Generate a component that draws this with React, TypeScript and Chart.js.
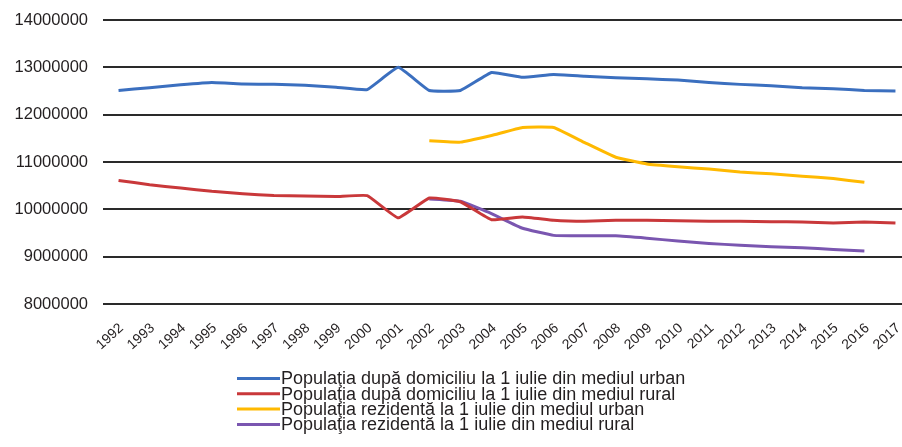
import React, { useEffect, useRef } from "react";
import { Chart, registerables } from "chart.js";

Chart.register(...registerables);

const years = [
  "1992", "1993", "1994", "1995", "1996", "1997", "1998", "1999", "2000", "2001", "2002", "2003", "2004",
  "2005", "2006", "2007", "2008", "2009", "2010", "2011", "2012", "2013", "2014", "2015", "2016", "2017",
];

const domiciliuUrban = [
  12510000, 12570000, 12630000, 12680000, 12650000, 12640000, 12620000, 12580000, 12530000, 13000000,
  12510000, 12510000, 12890000, 12790000, 12850000, 12810000, 12780000, 12760000, 12730000, 12680000,
  12640000, 12610000, 12570000, 12550000, 12510000, 12500000,
];

const domiciliuRural = [
  10610000, 10520000, 10450000, 10380000, 10330000, 10290000, 10280000, 10270000, 10290000, 9820000,
  10240000, 10160000, 9780000, 9840000, 9770000, 9750000, 9770000, 9770000, 9760000, 9750000,
  9750000, 9740000, 9730000, 9710000, 9730000, 9710000,
];

const rezidentaUrban = [
  null, null, null, null, null, null, null, null, null, null,
  11450000, 11420000, 11560000, 11730000, 11730000, 11410000, 11100000, 10960000, 10900000, 10850000,
  10790000, 10750000, 10700000, 10650000, 10570000, null,
];

const rezidentaRural = [
  null, null, null, null, null, null, null, null, null, null,
  10220000, 10170000, 9910000, 9600000, 9450000, 9440000, 9440000, 9390000, 9330000, 9280000,
  9240000, 9210000, 9190000, 9150000, 9120000, null,
];

const seriesLabels = [
  "Populaţia după domiciliu la 1 iulie din mediul urban",
  "Populaţia după domiciliu la 1 iulie din mediul rural",
  "Populaţia rezidentă la 1 iulie din mediul urban",
  "Populaţia rezidentă la 1 iulie din mediul rural",
];

const seriesColors = ["#3b6fbf", "#c9383a", "#ffb901", "#7a56b0"];

const yMin = 8000000;
const yMax = 14000000;
const yStep = 1000000;

const TEXT = "#231f20";
const FONT = "'Liberation Sans', Arial, sans-serif";

const legendPlugin = {
  id: "verticalLegend",
  afterDraw(chart: any) {
    const ctx = chart.ctx as CanvasRenderingContext2D;
    ctx.save();
    chart.data.datasets.forEach((ds: any, i: number) => {
      const y = 378.5 + i * 15.3;
      ctx.strokeStyle = ds.borderColor;
      ctx.lineWidth = 3;
      ctx.beginPath();
      ctx.moveTo(237, y);
      ctx.lineTo(280, y);
      ctx.stroke();
      ctx.fillStyle = TEXT;
      ctx.font = `18px ${FONT}`;
      ctx.textBaseline = "middle";
      ctx.textAlign = "left";
      ctx.fillText(ds.label, 281, y + 1);
    });
    ctx.restore();
  },
};

export default function App() {
  const ref = useRef<HTMLCanvasElement | null>(null);

  useEffect(() => {
    if (!ref.current) return;
    const data = [domiciliuUrban, domiciliuRural, rezidentaUrban, rezidentaRural];
    const chart = new Chart(ref.current, {
      type: "line",
      data: {
        labels: years,
        datasets: data.map((d, i) => ({
          label: seriesLabels[i],
          data: d as any,
          borderColor: seriesColors[i],
          backgroundColor: seriesColors[i],
          borderWidth: 3,
          pointRadius: 0,
          tension: 0.1,
          spanGaps: false,
        })),
      },
      options: {
        responsive: false,
        animation: false,
        layout: { padding: { top: 20, bottom: 83, left: 0, right: 0 } },
        plugins: {
          legend: { display: false },
          tooltip: { enabled: false },
        },
        scales: {
          x: {
            offset: true,
            grid: { display: false, drawTicks: false },
            border: { display: false },
            ticks: {
              color: TEXT,
              font: { family: FONT, size: 14 },
              minRotation: 42,
              maxRotation: 42,
              autoSkip: false,
              padding: 16,
              labelOffset: 3,
            },
            afterFit(scale: any) {
              scale.height = 60;
              scale.paddingLeft = 0;
              scale.paddingRight = 0;
            },
          },
          y: {
            min: yMin,
            max: yMax,
            border: { display: false },
            grid: { color: "#2a2a2a", lineWidth: 2, drawTicks: false },
            ticks: {
              stepSize: yStep,
              color: TEXT,
              font: { family: FONT, size: 16.5 },
              padding: 15,
              callback: (v: any) => String(v),
            },
            afterFit(scale: any) {
              scale.width = 103;
              scale.paddingTop = 0;
              scale.paddingBottom = 0;
            },
          },
        },
      },
      plugins: [legendPlugin],
    });
    return () => chart.destroy();
  }, []);

  return (
    <div
      style={{
        position: "absolute",
        left: 0,
        top: 0,
        width: 902,
        height: 447,
        overflow: "hidden",
        background: "#ffffff",
      }}
    >
      <canvas ref={ref} width={911} height={447} style={{ display: "block" }} />
    </div>
  );
}
